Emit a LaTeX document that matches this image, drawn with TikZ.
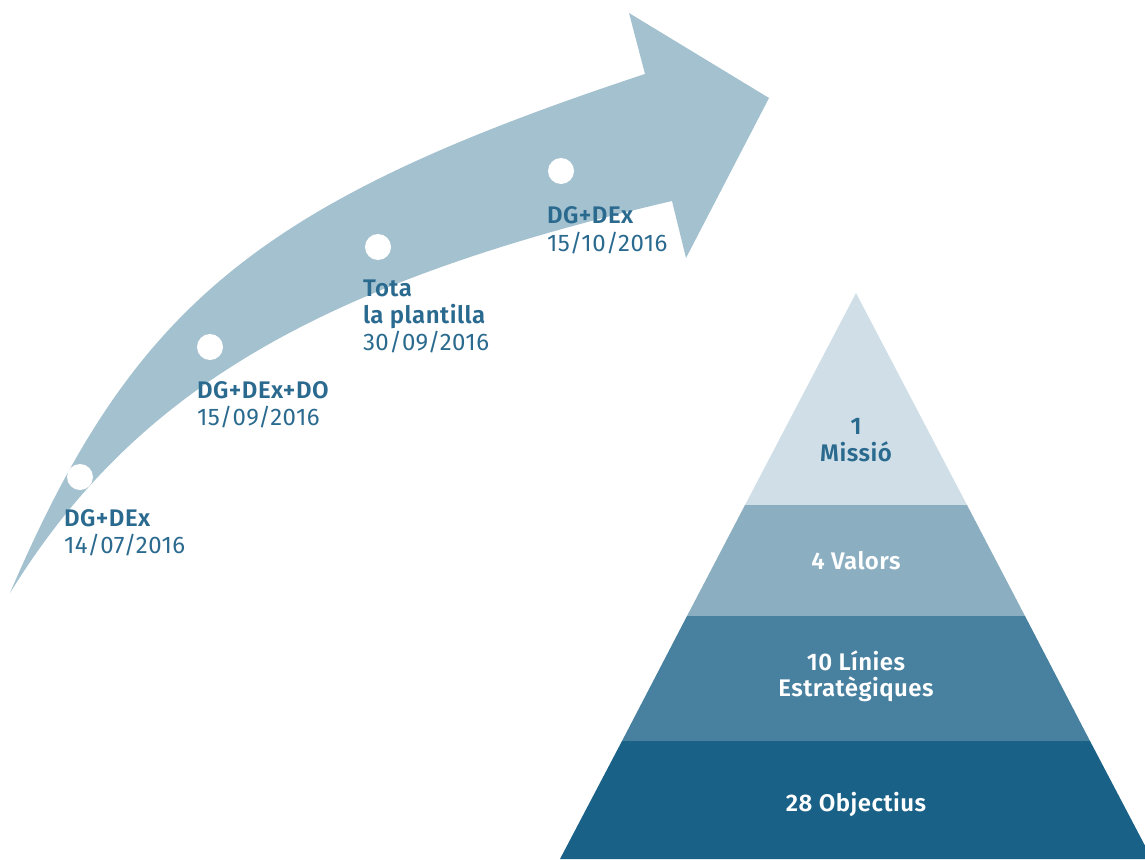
\documentclass[tikz,border=0pt]{standalone}
\usepackage{fontspec}
\setmainfont{Fira Sans}[BoldFont={Fira Sans SemiBold}, LetterSpace=2]
\definecolor{arrowblue}{HTML}{A3C1CF}
\definecolor{labelblue}{HTML}{2B6A8F}
\definecolor{tierA}{HTML}{D0DFE7}
\definecolor{tierB}{HTML}{8BAFC1}
\definecolor{tierC}{HTML}{48809F}
\definecolor{tierD}{HTML}{1A6187}
\begin{document}
\begin{tikzpicture}[x=1pt,y=-1pt,
  every node/.style={inner sep=0pt, outer sep=0pt},
  lbl/.style={anchor=base west, text=labelblue, font=\fontsize{24}{27}\selectfont},
  lblb/.style={lbl, font=\fontsize{24}{27}\selectfont\bfseries},
  tier/.style={anchor=base, font=\fontsize{24}{27}\selectfont\bfseries},
  dot/.style={circle, fill=white, minimum size=26pt}]
\useasboundingbox (0,0) rectangle (1145,859);
\begin{scope}
\clip (0,0) rectangle (1145,859);

% curved timeline arrow: outer edge, head, inner edge back to the tail point
\coordinate (tail) at (10,593);
\fill[arrowblue]
  (tail) .. controls (133,306) and (257,202) .. (645,74)
  -- (629,13) -- (769,98) -- (686,258) -- (672,201)
  .. controls (320,283) and (135,390) .. (tail)
  -- cycle;

% milestones
\node[dot] (m1) at (80,477) {};
\node[dot] (m2) at (210,347) {};
\node[dot] (m3) at (378,247) {};
\node[dot] (m4) at (561,171) {};

\node[lblb] (m1who) at (64,526) {DG+DEx};
\node[lbl]  (m1date) at (64,553) {14/07/2016};
\node[lblb] (m2who) at (197,398) {DG+DEx+DO};
\node[lbl]  (m2date) at (197,425) {15/09/2016};
\node[lblb] (m3who) at (363,296) {Tota};
\node[lblb] (m3who2) at (363,323) {la plantilla};
\node[lbl]  (m3date) at (363,350) {30/09/2016};
\node[lblb] (m4who) at (547,223) {DG+DEx};
\node[lbl]  (m4date) at (547,251) {15/10/2016};

% pyramid tiers
\fill[tierA] (856,293) -- (967,505) -- (745,505) -- cycle;
\fill[tierB] (745,505) -- (967,505) -- (1025,616) -- (687,616) -- cycle;
\fill[tierC] (687,616) -- (1025,616) -- (1090,741) -- (622,741) -- cycle;
\fill[tierD] (622,741) -- (1090,741) -- (1152,859) -- (560,859) -- cycle;

\node[tier, text=labelblue] (t1a) at (856,434) {1};
\node[tier, text=labelblue] (t1b) at (856,461) {Missió};
\node[tier, text=white] (t2) at (856,569) {4 Valors};
\node[tier, text=white] (t3a) at (856,670) {10 Línies};
\node[tier, text=white] (t3b) at (856,696) {Estratègiques};
\node[tier, text=white] (t4) at (856,811) {28 Objectius};
\end{scope}
\end{tikzpicture}
\end{document}
